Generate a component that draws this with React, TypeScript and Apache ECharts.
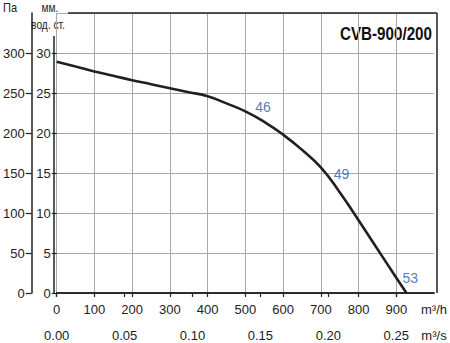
import React, { useEffect, useRef } from "react";
import * as echarts from "echarts";

const flowM3h = [0, 50, 100, 150, 200, 250, 300, 350, 400, 450, 500, 550, 600, 650, 700, 750, 800, 850, 900, 927];
const pressurePa = [289, 283, 277, 271.5, 266, 261, 256, 251, 246, 237, 227, 214, 198, 179, 157, 126, 91, 55, 19, 0];

const noiseLabels = ["46", "49", "53"];
const noiseX = [547, 755, 937];
const noiseY = [233, 149, 19];

const xTicks = [0, 100, 200, 300, 400, 500, 600, 700, 800, 900];
const paTicks = [0, 50, 100, 150, 200, 250, 300];
const mmTicks = [0, 5, 10, 15, 20, 25, 30];
const m3sTicks = [0, 0.05, 0.1, 0.15, 0.2, 0.25];

const FONT = "'Liberation Sans', Arial, sans-serif";
const TEXT = "#222";
const AXIS = "#222";
const GRID = "#a8a8a8";

export default function App() {
  const ref = useRef<HTMLDivElement>(null);
  useEffect(() => {
    if (!ref.current) return;
    const chart = echarts.init(ref.current, null, { renderer: "svg" });
    const L = 54, T = 13, R = 437, B = 293;
    chart.setOption({
      animation: false,
      backgroundColor: "#fff",
      textStyle: { fontFamily: FONT },
      grid: { left: L, top: T, right: 450 - R, bottom: 343 - B, show: false },
      xAxis: [
        {
          type: "value", min: 0, max: 1000, interval: 100, position: "bottom",
          axisLine: { show: true, lineStyle: { color: AXIS, width: 1.5 } },
          axisTick: { show: true, inside: false, length: 4, customValues: xTicks, lineStyle: { color: AXIS, width: 1.2 } },
          axisLabel: {
            customValues: [...xTicks, 1000], margin: 10, color: TEXT, fontSize: 13, fontFamily: FONT,
            formatter: (v: number) => (v === 1000 ? "m³/h" : String(v)),
          },
          splitLine: { show: true, lineStyle: { color: GRID, width: 1 } },
        },
        {
          type: "value", min: 0, max: 1000 / 3600, position: "bottom", offset: 26,
          axisLine: { show: true, lineStyle: { color: AXIS, width: 1.5 } },
          axisTick: { show: true, inside: false, length: 4, customValues: m3sTicks, lineStyle: { color: AXIS, width: 1.2 } },
          axisLabel: {
            customValues: [...m3sTicks, 1000 / 3600], margin: 10, color: TEXT, fontSize: 13, fontFamily: FONT,
            formatter: (v: number) => (v > 0.26 ? "m³/s" : v.toFixed(2)),
          },
          splitLine: { show: false },
        },
      ],
      yAxis: [
        {
          type: "value", min: 0, max: 350, interval: 50, position: "left", offset: 0,
          axisLine: { show: false },
          axisTick: { show: false },
          axisLabel: { show: false },
          splitLine: { show: true, lineStyle: { color: GRID, width: 1 } },
        },
        {
          type: "value", min: 0, max: 35, interval: 5, position: "left", offset: 0,
          axisLine: { show: false },
          axisTick: { show: true, inside: false, length: 5, customValues: mmTicks, lineStyle: { color: AXIS, width: 1.2 } },
          axisLabel: { customValues: mmTicks, margin: 6, color: TEXT, fontSize: 13, fontFamily: FONT },
          splitLine: { show: false },
        },
        {
          type: "value", min: 0, max: 350, interval: 50, position: "left", offset: 25,
          axisLine: { show: true, lineStyle: { color: AXIS, width: 1.5 } },
          axisTick: { show: true, inside: false, length: 6, customValues: paTicks, lineStyle: { color: AXIS, width: 1.2 } },
          axisLabel: { customValues: paTicks, margin: 7, color: TEXT, fontSize: 13, fontFamily: FONT },
          splitLine: { show: false },
        },
      ],
      series: [
        {
          type: "line",
          xAxisIndex: 0,
          yAxisIndex: 0,
          data: flowM3h.map((x, i) => [x, pressurePa[i]]),
          smooth: 0.5,
          symbol: "none",
          lineStyle: { color: "#231f20", width: 2.6 },
          z: 5,
        },
        {
          type: "scatter",
          xAxisIndex: 0,
          yAxisIndex: 0,
          symbolSize: 0,
          data: noiseX.map((x, i) => ({ value: [x, noiseY[i]], name: noiseLabels[i] })),
          label: {
            show: true, position: "inside", formatter: (p: any) => p.name,
            color: "#1b5db5", fontSize: 14, fontFamily: FONT,
          },
          z: 6,
        },
      ],
      graphic: [
        { type: "line", shape: { x1: 68, y1: T, x2: R, y2: T }, style: { stroke: AXIS, lineWidth: 1.5 }, z: 10 },
        { type: "line", shape: { x1: R, y1: T, x2: R, y2: B }, style: { stroke: AXIS, lineWidth: 1.5 }, z: 10 },
        { type: "line", shape: { x1: L, y1: 36, x2: L, y2: B }, style: { stroke: AXIS, lineWidth: 1.5 }, z: 10 },
        { type: "text", x: 10, y: 8, scaleX: 0.85, style: { text: "Па", fill: TEXT, font: `13px ${FONT}`, textAlign: "center", textVerticalAlign: "middle" } },
        { type: "text", x: 50, y: 8, scaleX: 0.85, style: { text: "мм.", fill: TEXT, font: `12px ${FONT}`, textAlign: "center", textVerticalAlign: "middle" } },
        { type: "text", x: 48, y: 25, scaleX: 0.85, style: { text: "вод. ст.", fill: TEXT, font: `12px ${FONT}`, textAlign: "center", textVerticalAlign: "middle" } },
        { type: "text", x: 432, y: 33, scaleX: 0.8, style: { text: "CVB-900/200", fill: "#111", font: `bold 19px ${FONT}`, textAlign: "right", textVerticalAlign: "middle" } },
      ],
    });
    return () => chart.dispose();
  }, []);
  return <div ref={ref} style={{ position: "fixed", left: 0, top: 0, width: 450, height: 343 }} />;
}
